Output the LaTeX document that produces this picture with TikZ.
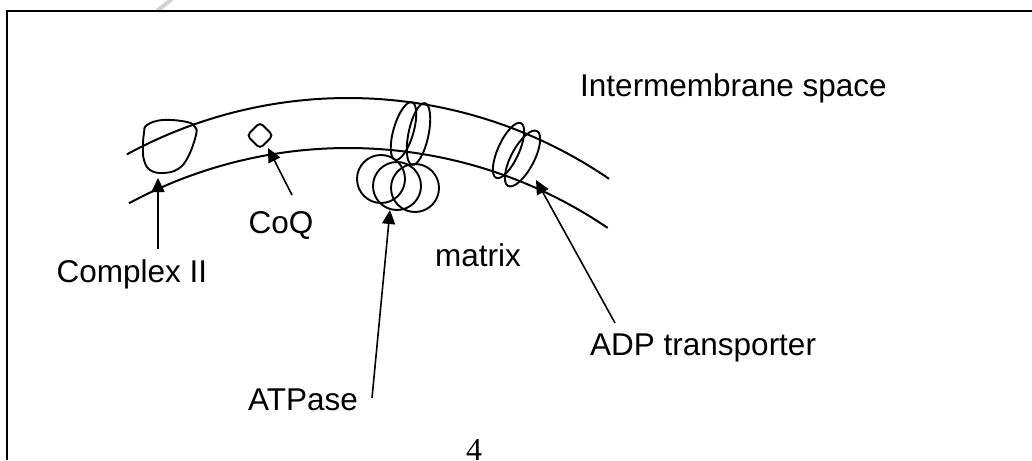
\documentclass[tikz,border=0pt]{standalone}
\usepackage{fontspec}
\setmainfont{Liberation Sans}
\newfontfamily\serifnum{Liberation Serif}
\usetikzlibrary{shapes.geometric,arrows.meta}
\begin{document}
\begin{tikzpicture}[x=1pt,y=1pt,
  memb/.style={line width=2pt},
  prot/.style={draw, line width=1.9pt, inner sep=0pt, outer sep=0pt},
  lbl/.style={anchor=base west, inner sep=0pt, font=\fontsize{31.5}{38}\selectfont},
  arr/.style={line width=1.6pt, -{Triangle[length=14pt,width=13pt]}}]
\useasboundingbox (0,0) rectangle (1032,-460);
% watermark mark
\draw[gray!35, line width=4pt] (157,-11) -- (172,1);
% frame
\draw[line width=2.6pt] (7,-460) -- (7,-11) -- (1033,-11);
% membranes
\draw[memb] plot[domain=118.6:55.6, samples=80] ({348+462*cos(\x)}, {-560+462*sin(\x)});
\draw[memb] plot[domain=118.3:55.8, samples=80] ({348+462*cos(\x)}, {-610+462*sin(\x)});
% Complex II blob
\draw[line width=1.9pt] plot[smooth cycle, tension=0.7] coordinates
  {(147,-125) (163,-120) (187,-122) (195,-127) (196,-135) (188,-157) (178,-169) (163,-173) (150,-170) (144,-160) (143,-147) (144,-133)};
% CoQ diamond
\node[prot, diamond, minimum width=26pt, minimum height=26pt, rounded corners=4pt] (coq) at (260,-135.5) {};
% ATPase
\node[prot, ellipse, minimum width=60pt, minimum height=20pt, rotate=73.7] (atpa) at (403.5,-131) {};
\node[prot, ellipse, minimum width=63pt, minimum height=20pt, rotate=78.2] (atpb) at (418.5,-134) {};
\node[prot, circle, minimum size=48pt] (atpc) at (381,-179) {};
\node[prot, circle, minimum size=48pt] (atpd) at (397,-186) {};
\node[prot, circle, minimum size=48pt] (atpe) at (415,-188) {};
% ADP transporter
\node[prot, ellipse, minimum width=60pt, minimum height=21pt, rotate=65.6] (adpa) at (508.5,-150.5) {};
\node[prot, ellipse, minimum width=62pt, minimum height=23pt, rotate=62.2] (adpb) at (522.5,-158.5) {};
% labels
\node[lbl] (ims) at (580,-96) {Intermembrane space};
\node[lbl] (c2) at (56.5,-282) {Complex II};
\node[lbl] (coql) at (248.5,-233) {CoQ};
\node[lbl] (mat) at (435,-266) {matrix};
\node[lbl] (adpl) at (590,-355) {ADP transporter};
\node[lbl] (atpl) at (248,-410) {ATPase};
\node[anchor=base west, inner sep=0pt, font=\serifnum\fontsize{32}{38}\selectfont] (pg) at (466,-460) {4};
% arrows
\coordinate (c2s) at (158,-249);   \coordinate (c2t) at (158,-178);
\coordinate (coqs) at (292,-195);  \coordinate (coqt) at (268,-148);
\coordinate (atps) at (372,-398);  \coordinate (atpt) at (390,-210);
\coordinate (adps) at (615,-323);  \coordinate (adpt) at (536,-180);
\draw[arr] (c2s) -- (c2t);
\draw[arr] (coqs) -- (coqt);
\draw[arr] (atps) -- (atpt);
\draw[arr] (adps) -- (adpt);
\end{tikzpicture}
\end{document}
